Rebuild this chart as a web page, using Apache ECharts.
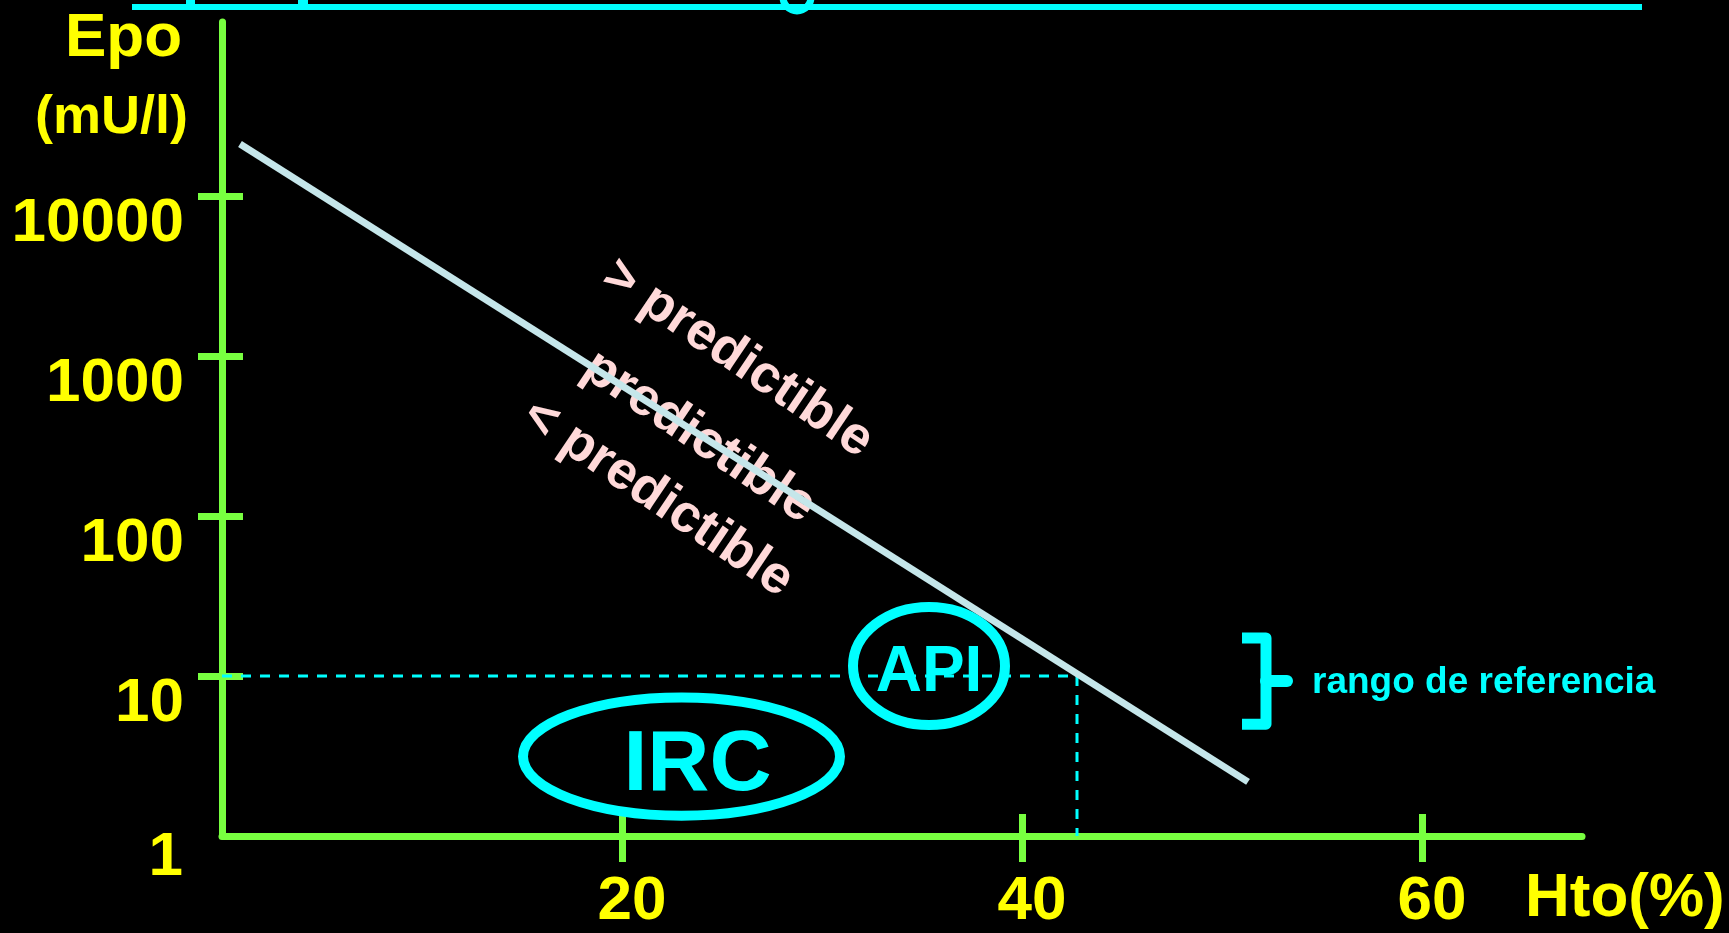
<!DOCTYPE html>
<html>
<head>
<meta charset="utf-8">
<script src="https://cdn.jsdelivr.net/npm/echarts@6.0.0/dist/echarts.min.js"></script>
<style>
html,body{margin:0;padding:0;background:#000;}
#chart{width:1729px;height:933px;}
</style>
</head>
<body>
<div id="chart"></div>
<script>
// ---------------- data ----------------
const htoTicks = [20, 40, 60];              // x tick labels
const epoTicksUpper = [10, 100, 1000, 10000]; // y tick labels (decades)
const epoTickLow = 1;                       // y tick label at the origin
const htoRange = [0, 68];
const trendHto = [0.9, 51.3];               // Epo vs Hto straight line (log scale)
const trendEpo = [21135, 2.18];
const refHto = [0, 42.75, 42.75];           // dashed reference at Epo = 10
const refEpo = [10, 10, 1];
const groupNames = ['IRC', 'API'];
const groupHtoMin = [15.05, 31.55];
const groupHtoMax = [30.9, 39.15];
const groupEpoMin = [1.34, 4.94];
const groupEpoMax = [7.34, 27.0];
const rangeHto = [51, 53.4];                // brace "rango de referencia"
const rangeEpo = [5.0, 17.3];
const rangeLabel = 'rango de referencia';
const predLabels = ['> predictible', 'predictible', '< predictible'];
const predHto = [25.78, 23.85, 21.79];
const predEpo = [964, 311.7, 129.6];

// ---------------- styles / layout ----------------
const GREEN = '#78ff40';
const YELLOW = '#ffff00';
const CYAN = '#00ffff';
const LINE = '#c5e6ea';
const PINK = '#ffd9d9';
const FONT = '"Liberation Sans", Arial, Helvetica, sans-serif';
const H = 933;
const plotLeft = 222, plotRight = 147, plotTop = 22, plotBottom = 97;
const axisY = H - plotBottom;        // pixel row of Epo = 1
const decadePx = 160;                // pixels per decade on the Epo axis
const yMaxA = Math.pow(10, (axisY - plotTop) / decadePx);
const gridBTop = axisY - 4 * decadePx;
const gridBBottom = H - (axisY - decadePx);

const labelStyle = {color: YELLOW, fontSize: 62, fontWeight: 'bold', fontFamily: FONT};

const chart = echarts.init(document.getElementById('chart'), null, {renderer: 'canvas'});

const option = {
  backgroundColor: '#000',
  animation: false,
  grid: [
    {left: plotLeft, right: plotRight, top: plotTop, bottom: plotBottom, containLabel: false, outerBoundsMode: 'none'},
    {left: plotLeft, right: plotRight, top: gridBTop, bottom: gridBBottom, containLabel: false, outerBoundsMode: 'none'}
  ],
  xAxis: [
    {
      gridIndex: 0, type: 'value', min: htoRange[0], max: htoRange[1], position: 'bottom',
      axisLine: {show: true, lineStyle: {color: GREEN, width: 7}},
      axisTick: {show: true, inside: true, length: 22, customValues: htoTicks, lineStyle: {color: GREEN, width: 7}},
      axisLabel: {show: false},
      splitLine: {show: false}
    },
    {
      gridIndex: 0, type: 'value', min: htoRange[0], max: htoRange[1], position: 'bottom',
      axisLine: {show: false},
      axisTick: {show: true, inside: false, length: 26, customValues: htoTicks, lineStyle: {color: GREEN, width: 7}},
      axisLabel: Object.assign({show: true, customValues: htoTicks, margin: 35, padding: [0, 0, 0, 20]}, labelStyle),
      splitLine: {show: false},
      name: 'Hto(%)', nameLocation: 'end', nameGap: -57,
      nameTextStyle: Object.assign({align: 'left', verticalAlign: 'top', lineHeight: 126}, labelStyle)
    },
    {gridIndex: 1, type: 'value', min: htoRange[0], max: htoRange[1], show: false}
  ],
  yAxis: [
    {
      gridIndex: 0, type: 'log', logBase: 10, min: epoTickLow, max: yMaxA, position: 'left',
      axisLine: {show: true, lineStyle: {color: GREEN, width: 7}},
      axisTick: {show: false},
      axisLabel: Object.assign({
        show: true, margin: 39, verticalAlign: 'top', lineHeight: 44,
        formatter: function (v) { return Math.abs(v - epoTickLow) < 1e-9 ? String(epoTickLow) : ''; }
      }, labelStyle),
      splitLine: {show: false}
    },
    {
      gridIndex: 1, type: 'log', logBase: 10, min: epoTicksUpper[0], max: epoTicksUpper[epoTicksUpper.length - 1], position: 'left',
      axisLine: {show: false},
      axisTick: {show: true, inside: false, length: 24, lineStyle: {color: GREEN, width: 7}},
      axisLabel: Object.assign({
        show: true, margin: 38, verticalAlign: 'top', lineHeight: 56,
        formatter: function (v) { return String(Math.round(v)); }
      }, labelStyle),
      splitLine: {show: false}
    },
    {
      gridIndex: 1, type: 'log', logBase: 10, min: epoTicksUpper[0], max: epoTicksUpper[epoTicksUpper.length - 1], position: 'left',
      axisLine: {show: false},
      axisTick: {show: true, inside: true, length: 21, lineStyle: {color: GREEN, width: 7}},
      axisLabel: {show: false},
      splitLine: {show: false}
    }
  ],
  series: [
    {
      type: 'custom', xAxisIndex: 0, yAxisIndex: 0, z: 3, silent: true,
      data: predHto.map((x, i) => [x, predEpo[i]]),
      renderItem: function (params, api) {
        const p = api.coord([api.value(0), api.value(1)]);
        return {
          type: 'text', x: p[0], y: p[1], rotation: -34 * Math.PI / 180,
          style: {text: predLabels[params.dataIndex], fill: PINK, font: 'bold 53px ' + FONT, align: 'center', verticalAlign: 'middle'}
        };
      }
    },
    {
      type: 'line', xAxisIndex: 0, yAxisIndex: 0, z: 4, silent: true, symbol: 'none',
      data: trendHto.map((x, i) => [x, trendEpo[i]]),
      lineStyle: {color: LINE, width: 7}
    },
    {
      type: 'line', xAxisIndex: 0, yAxisIndex: 0, z: 3, silent: true, symbol: 'none',
      data: refHto.map((x, i) => [x, refEpo[i]]),
      lineStyle: {color: CYAN, width: 3, type: [10, 9]}
    },
    {
      type: 'custom', xAxisIndex: 0, yAxisIndex: 0, z: 5, silent: true,
      data: groupHtoMin.map((x, i) => [x, groupEpoMin[i], groupHtoMax[i], groupEpoMax[i]]),
      renderItem: function (params, api) {
        const a = api.coord([api.value(0), api.value(1)]);
        const b = api.coord([api.value(2), api.value(3)]);
        const cx = (a[0] + b[0]) / 2, cy = (a[1] + b[1]) / 2;
        const rx = Math.abs(b[0] - a[0]) / 2, ry = Math.abs(b[1] - a[1]) / 2;
        const i = params.dataIndex;
        const dx = [16, 0][i], dy = [10, 7][i], fs = [86, 64][i];
        return {
          type: 'group',
          children: [
            {type: 'ellipse', shape: {cx: cx, cy: cy, rx: rx, ry: ry}, style: {fill: 'transparent', stroke: CYAN, lineWidth: 10}},
            {type: 'text', x: cx + dx, y: cy + dy, style: {text: groupNames[i], fill: CYAN, font: 'bold ' + fs + 'px ' + FONT, align: 'center', verticalAlign: 'middle'}}
          ]
        };
      }
    },
    {
      type: 'custom', xAxisIndex: 0, yAxisIndex: 0, z: 5, silent: true,
      data: [[rangeHto[0], rangeEpo[0], rangeHto[1], rangeEpo[1]]],
      renderItem: function (params, api) {
        const a = api.coord([api.value(0), api.value(1)]);
        const b = api.coord([api.value(2), api.value(3)]);
        const x0 = a[0], x1 = b[0], xm = (x0 + x1) / 2;
        const yTop = b[1], yBot = a[1], yMid = (yTop + yBot) / 2;
        return {
          type: 'group',
          children: [
            {type: 'polyline', shape: {points: [[x0, yTop], [xm, yTop], [xm, yBot], [x0, yBot]]}, style: {fill: null, stroke: CYAN, lineWidth: 11, lineJoin: 'round'}},
            {type: 'line', shape: {x1: xm, y1: yMid, x2: x1 - 3, y2: yMid}, style: {stroke: CYAN, lineWidth: 12, lineCap: 'round'}},
            {type: 'text', x: x1 + 22, y: yMid + 2, style: {text: rangeLabel, fill: CYAN, font: 'bold 37px ' + FONT, align: 'left', verticalAlign: 'middle'}}
          ]
        };
      }
    }
  ],
  graphic: [
    {type: 'rect', shape: {x: 132, y: 4, width: 1510, height: 6}, style: {fill: CYAN}, silent: true},
    {type: 'rect', shape: {x: 186, y: 0, width: 9, height: 10}, style: {fill: CYAN}, silent: true},
    {type: 'rect', shape: {x: 298, y: 0, width: 10, height: 10}, style: {fill: CYAN}, silent: true},
    {type: 'arc', shape: {cx: 797, cy: -3, r: 14, startAngle: 0, endAngle: Math.PI}, style: {stroke: CYAN, lineWidth: 7, fill: null}, silent: true},
    {type: 'text', x: 182, y: 39, style: {text: 'Epo', fill: YELLOW, font: 'bold 62px ' + FONT, align: 'right', verticalAlign: 'middle'}, silent: true},
    {type: 'text', x: 188, y: 118, style: {text: '(mU/l)', fill: YELLOW, font: 'bold 54px ' + FONT, align: 'right', verticalAlign: 'middle'}, silent: true}
  ]
};
chart.setOption(option);
</script>
</body>
</html>
